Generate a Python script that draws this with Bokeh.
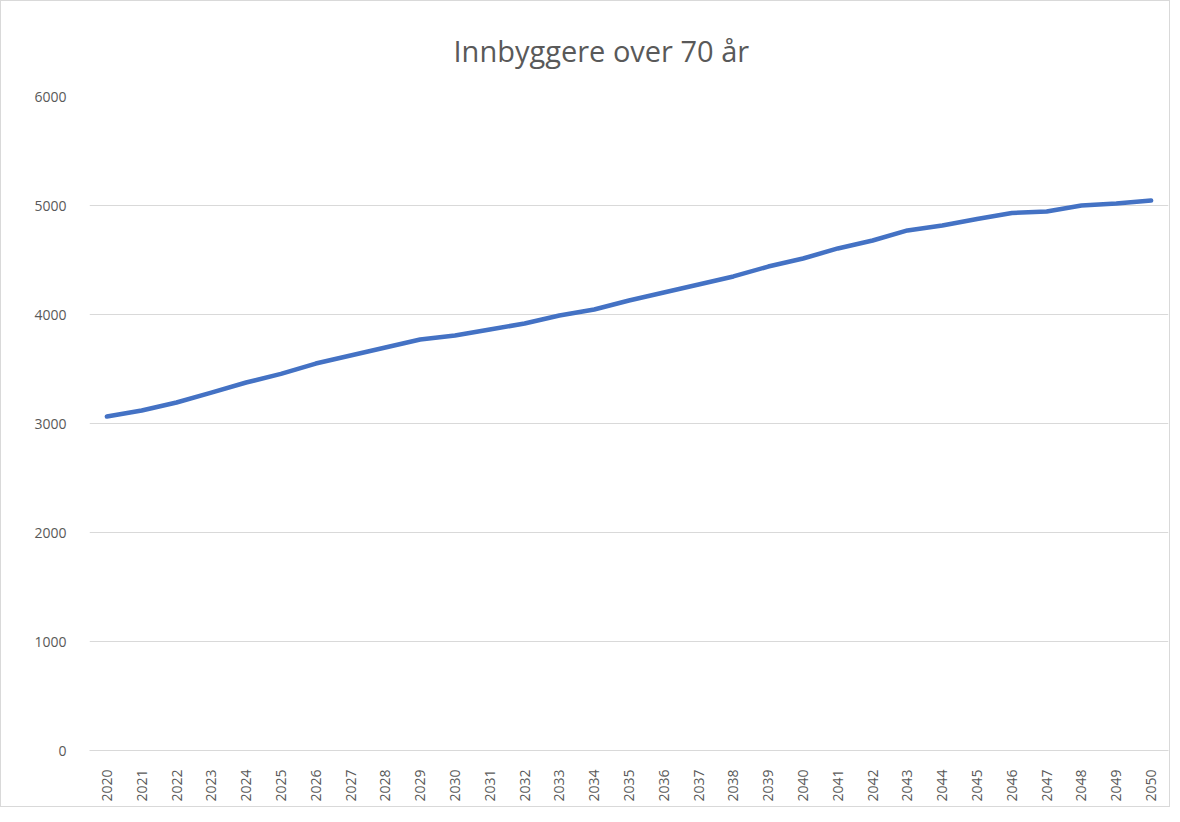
from bokeh.plotting import figure
from bokeh.models import Range1d, FactorRange, ColumnDataSource, FixedTicker
from bokeh.embed import file_html
from bokeh.resources import INLINE
import math

years = [str(y) for y in range(2020, 2051)]
values = [3064, 3119, 3193, 3284, 3376, 3455, 3550, 3624, 3697, 3771,
          3807, 3862, 3917, 3991, 4046, 4128, 4202, 4275, 4349, 4440,
          4514, 4606, 4679, 4771, 4817, 4876, 4932, 4945, 5000, 5018, 5046]
y_ticks = [0, 1000, 2000, 3000, 4000, 5000, 6000]
title_text = "Innbyggere over 70 år"

src = ColumnDataSource(data=dict(x=years, y=values))

p = figure(width=1170, height=807, x_range=FactorRange(*years, range_padding=0),
           y_range=Range1d(0, 6000), output_backend="svg", toolbar_location=None,
           title=title_text, min_border_left=88, min_border_right=3,
           min_border_top=95, min_border_bottom=58)

p.title.align = "left"
p.title.text_font = "Open Sans"
p.title.text_font_size = "29px"
p.title.text_font_style = "normal"
p.title.text_color = "#595959"
p.title.standoff = 54
p.title.offset = 364

p.line(x="x", y="y", source=src, line_color="#4472C4", line_width=4.5,
       line_cap="round", line_join="round")

p.outline_line_color = None
p.xgrid.grid_line_color = None
p.ygrid.grid_line_color = "#d9d9d9"
p.ygrid.grid_line_width = 1

p.yaxis.ticker = FixedTicker(ticks=y_ticks)
p.yaxis.axis_line_color = None
p.yaxis.major_tick_line_color = None
p.yaxis.minor_tick_line_color = None
p.yaxis.major_label_standoff = 17
p.yaxis.major_label_text_font = "Open Sans"
p.yaxis.major_label_text_font_size = "14px"
p.yaxis.major_label_text_color = "#595959"

p.xaxis.axis_line_color = "#d9d9d9"
p.xaxis.major_tick_line_color = None
p.xaxis.minor_tick_line_color = None
p.xaxis.major_label_orientation = math.pi / 2
p.xaxis.major_label_standoff = 13
p.xaxis.major_label_text_font = "Open Sans"
p.xaxis.major_label_text_font_size = "14px"
p.xaxis.major_label_text_color = "#595959"

p.styles = {"border": "1px solid #d9d9d9"}

open("out.html", "w").write(file_html(p, INLINE))
